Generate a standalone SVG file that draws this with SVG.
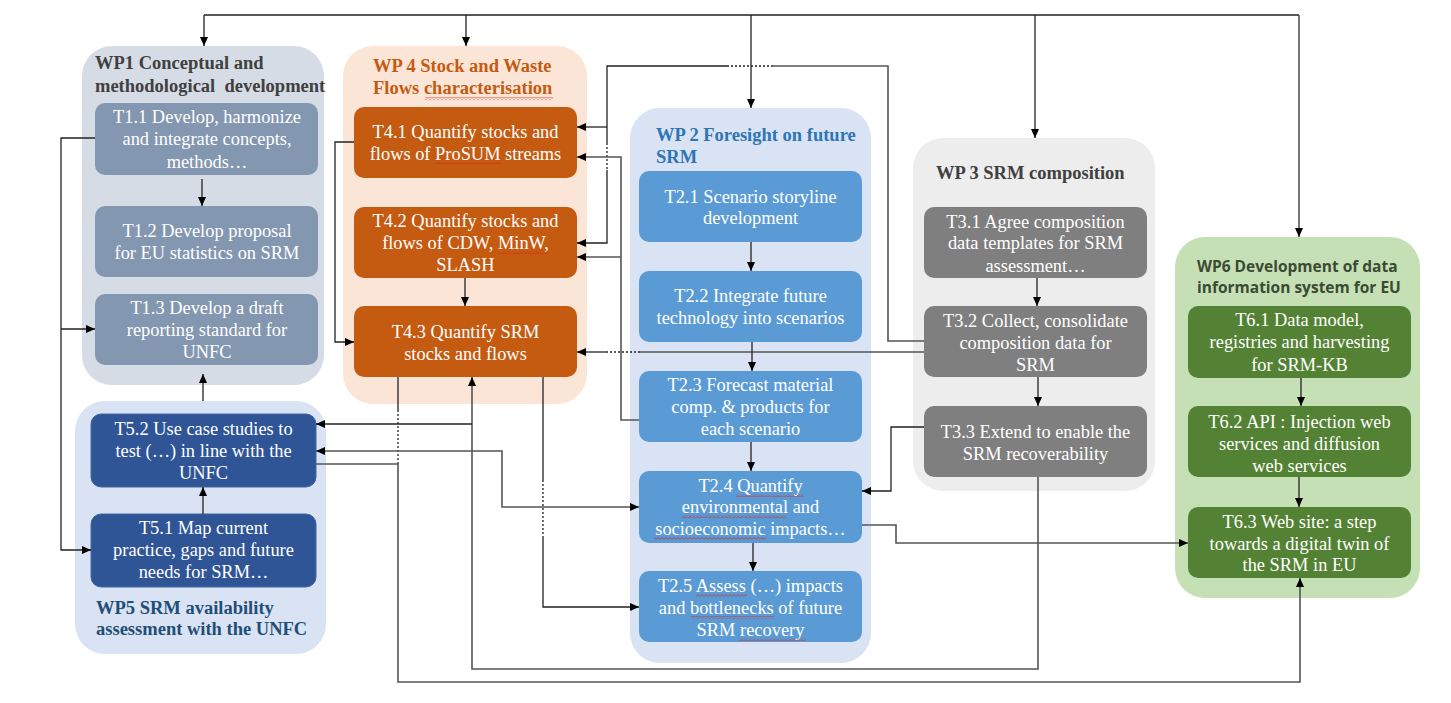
<svg xmlns="http://www.w3.org/2000/svg" width="1451" height="703" viewBox="0 0 1451 703">
<style>
.tt{font-weight:bold;font-size:18.5px}
.tk{font-size:18.4px;fill:#fff;text-anchor:middle}
.ln{fill:none;stroke:#222;stroke-width:1.3}
.gl{fill:none;stroke:#555;stroke-width:1.6}
.dt{fill:none;stroke:#222;stroke-width:1.3;stroke-dasharray:2 2}
.wv{fill:url(#wavy)}
</style>
<defs>
<marker id="ah" markerWidth="9" markerHeight="8" refX="9" refY="4" orient="auto-start-reverse" markerUnits="userSpaceOnUse">
<path d="M0,0 L9,4 L0,8 z" fill="#000"/>
</marker>
<pattern id="wavy" width="4" height="3" patternUnits="userSpaceOnUse">
<path d="M0,2.5 L2,0.5 L4,2.5" fill="none" stroke="#e02020" stroke-width="0.8"/>
</pattern>
</defs>
<rect width="1451" height="703" fill="#fff"/>

<!-- containers -->
<g id="wp1">
<rect x="82" y="46" width="242" height="339" rx="30" fill="#d6dce5"/>
<text font-family="Liberation Serif" class="tt" fill="#404040" x="95" y="69">WP1 Conceptual and</text>
<text font-family="Liberation Serif" class="tt" fill="#404040" x="95" y="92" xml:space="preserve">methodological  development</text>
</g>
<g id="wp4">
<rect x="343" y="46" width="244" height="358" rx="30" fill="#fbe5d6"/>
<text font-family="Liberation Serif" class="tt" fill="#c55a11" x="373" y="72">WP 4 Stock and Waste</text>
<text font-family="Liberation Serif" class="tt" fill="#c55a11" x="373" y="94">Flows characterisation</text>
</g>
<g id="wp2">
<rect x="630" y="108" width="241" height="555" rx="30" fill="#dae3f3"/>
<text font-family="Liberation Serif" class="tt" fill="#2e75b6" x="656" y="141">WP 2 Foresight on future</text>
<text font-family="Liberation Serif" class="tt" fill="#2e75b6" x="656" y="163">SRM</text>
</g>
<g id="wp3">
<rect x="913" y="138" width="242" height="353" rx="30" fill="#ededed"/>
<text font-family="Liberation Serif" class="tt" fill="#404040" x="936" y="179">WP 3 SRM composition</text>
</g>
<g id="wp6">
<rect x="1175" y="237" width="245" height="361" rx="30" fill="#c5e0b4"/>
<text font-family="Open Sans" font-weight="bold" font-size="15.5" fill="#3b4a33" x="1197" y="272">WP6 Development of data</text>
<text font-family="Open Sans" font-weight="bold" font-size="15.5" fill="#3b4a33" x="1197" y="293">information system for EU</text>
</g>
<g id="wp5">
<rect x="75" y="401" width="251" height="253" rx="30" fill="#dae3f3"/>
<text font-family="Liberation Serif" class="tt" fill="#1f4e79" x="96" y="614">WP5 SRM availability</text>
<text font-family="Liberation Serif" class="tt" fill="#1f4e79" x="96" y="635">assessment with the UNFC</text>
</g>

<!-- tasks -->
<g id="t11"><rect x="95" y="103" width="223" height="72" rx="10" fill="#8497b0"/>
<text font-family="Liberation Serif" class="tk" x="207" y="123">T1.1 Develop, harmonize</text>
<text font-family="Liberation Serif" class="tk" x="207" y="145">and integrate concepts,</text>
<text font-family="Liberation Serif" class="tk" x="207" y="168">methods…</text></g>
<g id="t12"><rect x="95" y="206" width="223" height="71" rx="10" fill="#8497b0"/>
<text font-family="Liberation Serif" class="tk" x="207" y="237">T1.2 Develop proposal</text>
<text font-family="Liberation Serif" class="tk" x="207" y="259">for EU statistics on SRM</text></g>
<g id="t13"><rect x="95" y="294" width="223" height="71" rx="10" fill="#8497b0"/>
<text font-family="Liberation Serif" class="tk" x="207" y="314">T1.3 Develop a draft</text>
<text font-family="Liberation Serif" class="tk" x="207" y="336">reporting standard for</text>
<text font-family="Liberation Serif" class="tk" x="207" y="358">UNFC</text></g>

<g id="t41"><rect x="354" y="107" width="223" height="71" rx="10" fill="#c55a11"/>
<text font-family="Liberation Serif" class="tk" x="465.5" y="138">T4.1 Quantify stocks and</text>
<text font-family="Liberation Serif" class="tk" x="465.5" y="160">flows of ProSUM streams</text></g>
<g id="t42"><rect x="354" y="207" width="223" height="71" rx="10" fill="#c55a11"/>
<text font-family="Liberation Serif" class="tk" x="465.5" y="227">T4.2 Quantify stocks and</text>
<text font-family="Liberation Serif" class="tk" x="465.5" y="249">flows of CDW, MinW,</text>
<text font-family="Liberation Serif" class="tk" x="465.5" y="271">SLASH</text></g>
<g id="t43"><rect x="354" y="306" width="223" height="71" rx="10" fill="#c55a11"/>
<text font-family="Liberation Serif" class="tk" x="465.5" y="338">T4.3 Quantify SRM</text>
<text font-family="Liberation Serif" class="tk" x="465.5" y="360">stocks and flows</text></g>

<g id="t21"><rect x="639" y="171" width="223" height="71" rx="10" fill="#5b9bd5"/>
<text font-family="Liberation Serif" class="tk" x="750.5" y="203">T2.1 Scenario storyline</text>
<text font-family="Liberation Serif" class="tk" x="750.5" y="224">development</text></g>
<g id="t22"><rect x="639" y="271" width="223" height="71" rx="10" fill="#5b9bd5"/>
<text font-family="Liberation Serif" class="tk" x="750.5" y="302">T2.2 Integrate future</text>
<text font-family="Liberation Serif" class="tk" x="750.5" y="324">technology into scenarios</text></g>
<g id="t23"><rect x="639" y="371" width="223" height="71" rx="10" fill="#5b9bd5"/>
<text font-family="Liberation Serif" class="tk" x="750.5" y="391">T2.3 Forecast material</text>
<text font-family="Liberation Serif" class="tk" x="750.5" y="413">comp. &amp; products for</text>
<text font-family="Liberation Serif" class="tk" x="750.5" y="435">each scenario</text></g>
<g id="t24"><rect x="639" y="471" width="223" height="72" rx="10" fill="#5b9bd5"/>
<text font-family="Liberation Serif" class="tk" x="750.5" y="492">T2.4 Quantify</text>
<text font-family="Liberation Serif" class="tk" x="750.5" y="513">environmental and</text>
<text font-family="Liberation Serif" class="tk" x="750.5" y="535">socioeconomic impacts…</text></g>
<g id="t25"><rect x="639" y="571" width="223" height="71" rx="10" fill="#5b9bd5"/>
<text font-family="Liberation Serif" class="tk" x="750.5" y="592">T2.5 Assess (…) impacts</text>
<text font-family="Liberation Serif" class="tk" x="750.5" y="614">and bottlenecks of future</text>
<text font-family="Liberation Serif" class="tk" x="750.5" y="636">SRM recovery</text></g>

<g id="t31"><rect x="924" y="207" width="223" height="71" rx="10" fill="#7f7f7f"/>
<text font-family="Liberation Serif" class="tk" x="1035.5" y="228">T3.1 Agree composition</text>
<text font-family="Liberation Serif" class="tk" x="1035.5" y="249">data templates for SRM</text>
<text font-family="Liberation Serif" class="tk" x="1035.5" y="272">assessment…</text></g>
<g id="t32"><rect x="924" y="306" width="223" height="71" rx="10" fill="#7f7f7f"/>
<text font-family="Liberation Serif" class="tk" x="1035.5" y="327">T3.2 Collect, consolidate</text>
<text font-family="Liberation Serif" class="tk" x="1035.5" y="349">composition data for</text>
<text font-family="Liberation Serif" class="tk" x="1035.5" y="371">SRM</text></g>
<g id="t33"><rect x="924" y="406" width="223" height="71" rx="10" fill="#7f7f7f"/>
<text font-family="Liberation Serif" class="tk" x="1035.5" y="438">T3.3 Extend to enable the</text>
<text font-family="Liberation Serif" class="tk" x="1035.5" y="460">SRM recoverability</text></g>

<g id="t61"><rect x="1188" y="306" width="223" height="72" rx="10" fill="#548235"/>
<text font-family="Liberation Serif" class="tk" x="1299.5" y="326">T6.1 Data model,</text>
<text font-family="Liberation Serif" class="tk" x="1299.5" y="348">registries and harvesting</text>
<text font-family="Liberation Serif" class="tk" x="1299.5" y="371">for SRM-KB</text></g>
<g id="t62"><rect x="1188" y="406" width="223" height="71" rx="10" fill="#548235"/>
<text font-family="Liberation Serif" class="tk" x="1299.5" y="428">T6.2 API : Injection web</text>
<text font-family="Liberation Serif" class="tk" x="1299.5" y="450">services and diffusion</text>
<text font-family="Liberation Serif" class="tk" x="1299.5" y="472">web services</text></g>
<g id="t63"><rect x="1188" y="507" width="223" height="71" rx="10" fill="#548235"/>
<text font-family="Liberation Serif" class="tk" x="1299.5" y="528">T6.3 Web site: a step</text>
<text font-family="Liberation Serif" class="tk" x="1299.5" y="550">towards a digital twin of</text>
<text font-family="Liberation Serif" class="tk" x="1299.5" y="571">the SRM in EU</text></g>

<g id="t52"><rect x="91" y="414" width="225" height="73" rx="10" fill="#2f5597" stroke="#41689f"/>
<text font-family="Liberation Serif" class="tk" x="203.5" y="435">T5.2 Use case studies to</text>
<text font-family="Liberation Serif" class="tk" x="203.5" y="457">test (…) in line with the</text>
<text font-family="Liberation Serif" class="tk" x="203.5" y="479">UNFC</text></g>
<g id="t51"><rect x="91" y="514" width="225" height="73" rx="10" fill="#2f5597" stroke="#41689f"/>
<text font-family="Liberation Serif" class="tk" x="203.5" y="534">T5.1 Map current</text>
<text font-family="Liberation Serif" class="tk" x="203.5" y="556">practice, gaps and future</text>
<text font-family="Liberation Serif" class="tk" x="203.5" y="578">needs for SRM…</text></g>

<!-- spell-check wavy underlines -->
<g id="spellmarks">
<rect class="wv" x="425" y="97" width="128" height="3"/>
<rect class="wv" x="436" y="162" width="65" height="3"/>
<rect class="wv" x="498" y="251" width="50" height="3"/>
<rect class="wv" x="736" y="494" width="68" height="3"/>
<rect class="wv" x="682" y="515" width="104" height="3"/>
<rect class="wv" x="654" y="537" width="112" height="3"/>
<rect class="wv" x="696" y="594" width="51" height="3"/>
<rect class="wv" x="691" y="616" width="83" height="3"/>
<rect class="wv" x="739" y="638" width="67" height="3"/>
</g>

<!-- connectors -->
<g id="connectors">
<path class="ln" d="M204,15 H1299"/>
<path class="ln" d="M204,15 V46" marker-end="url(#ah)"/>
<path class="ln" d="M466,15 V46" marker-end="url(#ah)"/>
<path class="ln" d="M751,15 V108" marker-end="url(#ah)"/>
<path class="ln" d="M1035,15 V138" marker-end="url(#ah)"/>
<path class="gl" d="M1299,15 V237" marker-end="url(#ah)"/>

<path class="ln" d="M202,179 V206" marker-end="url(#ah)"/>
<path class="ln" d="M95,138 H61 V550 H91" marker-end="url(#ah)"/>
<path class="ln" d="M61,329 H95" marker-end="url(#ah)"/>
<path class="ln" d="M203,401 V374" marker-end="url(#ah)"/>
<path class="ln" d="M203,514 V487" marker-end="url(#ah)"/>

<path class="ln" d="M465,278 V306" marker-end="url(#ah)"/>
<path class="ln" d="M354,142 H335 V342 H354" marker-end="url(#ah)"/>

<path class="gl" d="M924,341 H888 V66 H773"/>
<path class="dt" d="M773,66 H729"/>
<path class="ln" d="M729,66 H607 V143"/>
<path class="dt" d="M607,143 V170"/>
<path class="ln" d="M607,170 V243 H577" marker-end="url(#ah)"/>
<path class="ln" d="M607,127 H577" marker-end="url(#ah)"/>

<path class="gl" d="M639,420 H621 V157 H577" marker-end="url(#ah)"/>
<path class="gl" d="M621,257 H577" marker-end="url(#ah)"/>

<path class="gl" d="M924,352 H640"/>
<path class="dt" d="M640,352 H607"/>
<path class="ln" d="M607,352 H577" marker-end="url(#ah)"/>

<path class="ln" d="M751,242 V271" marker-end="url(#ah)"/>
<path class="ln" d="M752,342 V371" marker-end="url(#ah)"/>
<path class="ln" d="M751,442 V471" marker-end="url(#ah)"/>
<path class="ln" d="M753,543 V571" marker-end="url(#ah)"/>

<path class="ln" d="M1037,278 V306" marker-end="url(#ah)"/>
<path class="ln" d="M1038,377 V406" marker-end="url(#ah)"/>

<path class="ln" d="M924,427 H891 V491 H862" marker-end="url(#ah)"/>

<path class="gl" d="M862,525 H896 V543 H1188" marker-end="url(#ah)"/>

<path class="ln" d="M1301,378 V406" marker-end="url(#ah)"/>
<path class="ln" d="M1299,477 V507" marker-end="url(#ah)"/>

<path class="gl" d="M1038,477 V669 H472 V377" marker-end="url(#ah)"/>
<path class="ln" d="M472,424 H316" marker-end="url(#ah)"/>

<path class="ln" d="M398,377 V410"/>
<path class="dt" d="M398,410 V465"/>
<path class="gl" d="M316,464 H398 V682 H1300 V578" marker-end="url(#ah)"/>

<path class="gl" d="M316,451 H502 V507 H639" marker-start="url(#ah)" marker-end="url(#ah)"/>

<path class="ln" d="M543,377 V480"/>
<path class="dt" d="M543,480 V538"/>
<path class="ln" d="M543,538 V607 H639" marker-end="url(#ah)"/>
</g>
</svg>
